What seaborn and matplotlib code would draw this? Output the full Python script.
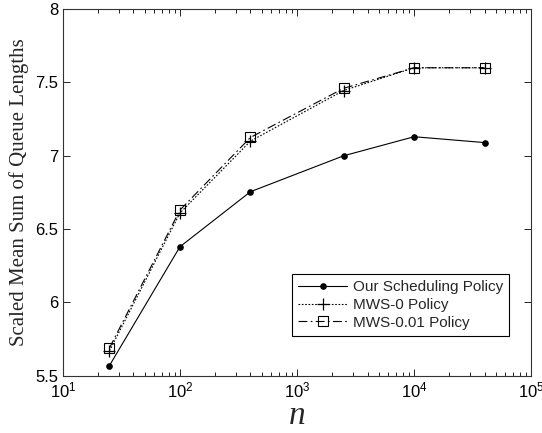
import matplotlib
matplotlib.use("Agg")
import matplotlib.pyplot as plt
import seaborn as sns
import pandas as pd
from matplotlib.ticker import FixedLocator, FixedFormatter, LogLocator, NullFormatter

n_values = [25, 100, 400, 2500, 10000, 40000]
our_policy = [5.57, 6.38, 6.755, 7.0, 7.13, 7.09]
mws_0 = [5.67, 6.61, 7.10, 7.445, 7.60, 7.60]
mws_001 = [5.69, 6.63, 7.125, 7.46, 7.60, 7.60]
series_names = ["Our Scheduling Policy", "MWS-0 Policy", "MWS-0.01 Policy"]
y_ticks = [5.5, 6, 6.5, 7, 7.5, 8]
y_tick_labels = ["5.5", "6", "6.5", "7", "7.5", "8"]

sns.set_style("ticks")
plt.rcParams["font.family"] = ["Liberation Sans", "DejaVu Sans"]

fig = plt.figure(figsize=(5.42, 4.33), dpi=100)
ax = fig.add_axes([0.116, 0.132, 0.864, 0.847])

styles = [
    dict(linestyle="-", marker="o", markersize=4, markerfacecolor="black", markeredgecolor="black"),
    dict(linestyle=(0, (1.5, 1.5)), marker="+", markersize=9, markeredgewidth=0.9,
         markeredgecolor="black", markerfacecolor="black"),
    dict(linestyle=(0, (8, 3, 1.5, 3)), marker="s", markersize=7, markerfacecolor="none",
         markeredgecolor="black", markeredgewidth=0.8),
]
for name, vals, st in zip(series_names, [our_policy, mws_0, mws_001], styles):
    df = pd.DataFrame({"n": n_values, "v": vals})
    sns.lineplot(data=df, x="n", y="v", ax=ax, color="black", linewidth=0.8,
                 label=name, **st)

ax.set_xscale("log")
ax.set_xlim(10, 1e5)
ax.set_ylim(5.5, 8)
ax.yaxis.set_major_locator(FixedLocator(y_ticks))
ax.yaxis.set_major_formatter(FixedFormatter(y_tick_labels))
ax.xaxis.set_major_locator(LogLocator(base=10, numticks=10))
ax.xaxis.set_minor_locator(LogLocator(base=10, subs=range(2, 10), numticks=20))
ax.xaxis.set_minor_formatter(NullFormatter())
ax.tick_params(which="both", direction="in", top=True, right=True, labelsize=12, colors="black")
ax.tick_params(which="major", length=5, width=0.6)
ax.tick_params(which="minor", length=3, width=0.6)
for sp in ax.spines.values():
    sp.set_linewidth(0.8)
    sp.set_color("#333333")

ax.set_xlabel("n", fontsize=24, family=["Liberation Serif", "DejaVu Serif"],
              fontstyle="italic", labelpad=0)
ax.set_ylabel("Scaled Mean Sum of Queue Lengths", fontsize=15,
              family=["Liberation Serif", "DejaVu Serif"])

leg = ax.legend(loc="lower right", bbox_to_anchor=(0.97, 0.088), fontsize=11, frameon=True,
                fancybox=False, edgecolor="black", framealpha=1, handlelength=3.2,
                borderpad=0.4, labelspacing=0.25, handletextpad=0.4)
leg.get_frame().set_linewidth(0.8)

fig.savefig("out.png", dpi=100)
